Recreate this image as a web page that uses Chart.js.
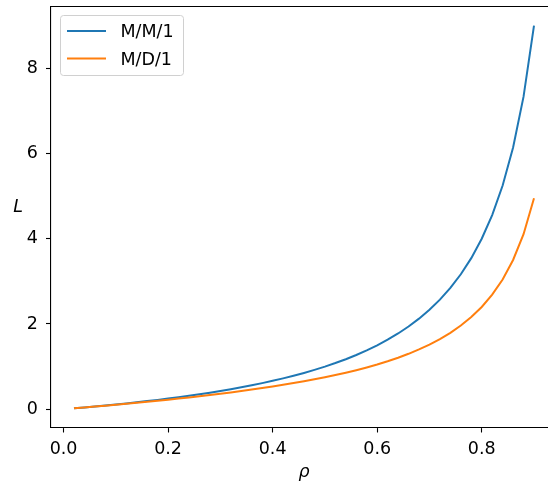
<!DOCTYPE html>
<html>
<head>
<meta charset="utf-8">
<script src="https://cdn.jsdelivr.net/npm/chart.js@4"></script>
<style>
  html, body { margin: 0; padding: 0; overflow: hidden; background: #fff; }
  canvas { display: block; }
</style>
</head>
<body>
<canvas id="queue" width="560" height="485"></canvas>
<script>
// utilisation rho and mean number in system L
const rho = [0.02, 0.04, 0.06, 0.08, 0.10, 0.12, 0.14, 0.16, 0.18, 0.20,
  0.22, 0.24, 0.26, 0.28, 0.30, 0.32, 0.34, 0.36, 0.38, 0.40,
  0.42, 0.44, 0.46, 0.48, 0.50, 0.52, 0.54, 0.56, 0.58, 0.60,
  0.62, 0.64, 0.66, 0.68, 0.70, 0.72, 0.74, 0.76, 0.78, 0.80,
  0.82, 0.84, 0.86, 0.88, 0.90];

const mm1 = [0.0204, 0.0417, 0.0638, 0.0870, 0.1111, 0.1364, 0.1628, 0.1905, 0.2195, 0.2500,
  0.2821, 0.3158, 0.3514, 0.3889, 0.4286, 0.4706, 0.5152, 0.5625, 0.6129, 0.6667,
  0.7241, 0.7857, 0.8519, 0.9231, 1.0000, 1.0833, 1.1739, 1.2727, 1.3810, 1.5000,
  1.6316, 1.7778, 1.9412, 2.1250, 2.3333, 2.5714, 2.8462, 3.1667, 3.5455, 4.0000,
  4.5556, 5.2500, 6.1429, 7.3333, 9.0000];

const md1 = [0.0202, 0.0408, 0.0619, 0.0835, 0.1056, 0.1282, 0.1514, 0.1752, 0.1998, 0.2250,
  0.2510, 0.2779, 0.3057, 0.3344, 0.3643, 0.3953, 0.4276, 0.4613, 0.4965, 0.5333,
  0.5721, 0.6129, 0.6559, 0.7015, 0.7500, 0.8017, 0.8570, 0.9164, 0.9805, 1.0500,
  1.1258, 1.2089, 1.3006, 1.4025, 1.5167, 1.6457, 1.7931, 1.9633, 2.1627, 2.4000,
  2.6878, 3.0450, 3.5014, 4.1067, 4.9500];

const xTicks = [0, 0.2, 0.4, 0.6, 0.8];
const yTicks = [0, 2, 4, 6, 8];
const seriesNames = ['M/M/1', 'M/D/1'];

const font = 'DejaVu Sans';
const fontSize = 17.5;

const decor = {
  id: 'decor',
  afterDraw(chart) {
    const { ctx, chartArea: a } = chart;
    ctx.save();
    // top spine (right one falls outside the window)
    ctx.strokeStyle = '#000';
    ctx.lineWidth = 1.1;
    ctx.beginPath();
    ctx.moveTo(a.left, a.top);
    ctx.lineTo(a.right, a.top);
    ctx.stroke();

    // axis titles
    ctx.fillStyle = '#000';
    ctx.font = 'italic ' + fontSize + 'px "' + font + '"';
    ctx.textAlign = 'center';
    ctx.textBaseline = 'alphabetic';
    ctx.fillText('\u03c1', 304, 477);
    ctx.fillText('L', 18, 212);

    // legend
    const bx = 60.5, by = 15.5, bw = 123, bh = 60, r = 3;
    ctx.beginPath();
    ctx.moveTo(bx + r, by);
    ctx.arcTo(bx + bw, by, bx + bw, by + bh, r);
    ctx.arcTo(bx + bw, by + bh, bx, by + bh, r);
    ctx.arcTo(bx, by + bh, bx, by, r);
    ctx.arcTo(bx, by, bx + bw, by, r);
    ctx.closePath();
    ctx.fillStyle = 'rgba(255,255,255,0.8)';
    ctx.fill();
    ctx.strokeStyle = '#d0d0d0';
    ctx.lineWidth = 1;
    ctx.stroke();

    ctx.font = fontSize + 'px "' + font + '"';
    ctx.textAlign = 'left';
    ctx.textBaseline = 'alphabetic';
    chart.data.datasets.forEach((ds, i) => {
      const y = 31 + i * 27.5;
      ctx.strokeStyle = ds.borderColor;
      ctx.lineWidth = 2;
      ctx.beginPath();
      ctx.moveTo(67, y);
      ctx.lineTo(106, y);
      ctx.stroke();
      ctx.fillStyle = '#000';
      ctx.fillText(ds.label, 120.5, y + 6.3);
    });
    ctx.restore();
  }
};

new Chart(document.getElementById('queue'), {
  type: 'line',
  data: {
    datasets: [
      {
        label: seriesNames[0],
        data: rho.map((r, i) => ({ x: r, y: mm1[i] })),
        borderColor: '#1f77b4',
        borderWidth: 2,
        pointRadius: 0,
        tension: 0,
        order: 1
      },
      {
        label: seriesNames[1],
        data: rho.map((r, i) => ({ x: r, y: md1[i] })),
        borderColor: '#ff7f0e',
        borderWidth: 2,
        pointRadius: 0,
        tension: 0,
        order: 0
      }
    ]
  },
  options: {
    responsive: false,
    animation: false,
    layout: { padding: { top: 6.5, right: 3, left: 0, bottom: 0 } },
    plugins: { legend: { display: false }, tooltip: { enabled: false } },
    scales: {
      x: {
        type: 'linear',
        min: -0.024,
        max: 0.944,
        afterBuildTicks: s => { s.ticks = xTicks.map(v => ({ value: v })); },
        afterFit: s => { s.height = 57.5; s.paddingLeft = 0; s.paddingRight = 0; },
        grid: { display: true, drawOnChartArea: false, drawTicks: true, tickLength: 5, color: '#000', tickWidth: 1.1 },
        border: { display: true, color: '#000', width: 1.1 },
        ticks: {
          color: '#000',
          font: { family: font, size: fontSize },
          padding: 6,
          maxRotation: 0,
          callback: v => v.toFixed(1)
        }
      },
      y: {
        type: 'linear',
        min: -0.4286,
        max: 9.449,
        afterBuildTicks: s => { s.ticks = yTicks.map(v => ({ value: v })); },
        afterFit: s => { s.width = 51; s.paddingTop = 0; s.paddingBottom = 0; },
        grid: { display: true, drawOnChartArea: false, drawTicks: true, tickLength: 5, color: '#000', tickWidth: 1.1 },
        border: { display: true, color: '#000', width: 1.1 },
        ticks: {
          color: '#000',
          font: { family: font, size: fontSize },
          padding: 8,
          callback: v => String(v)
        }
      }
    }
  },
  plugins: [decor]
});
</script>
</body>
</html>
